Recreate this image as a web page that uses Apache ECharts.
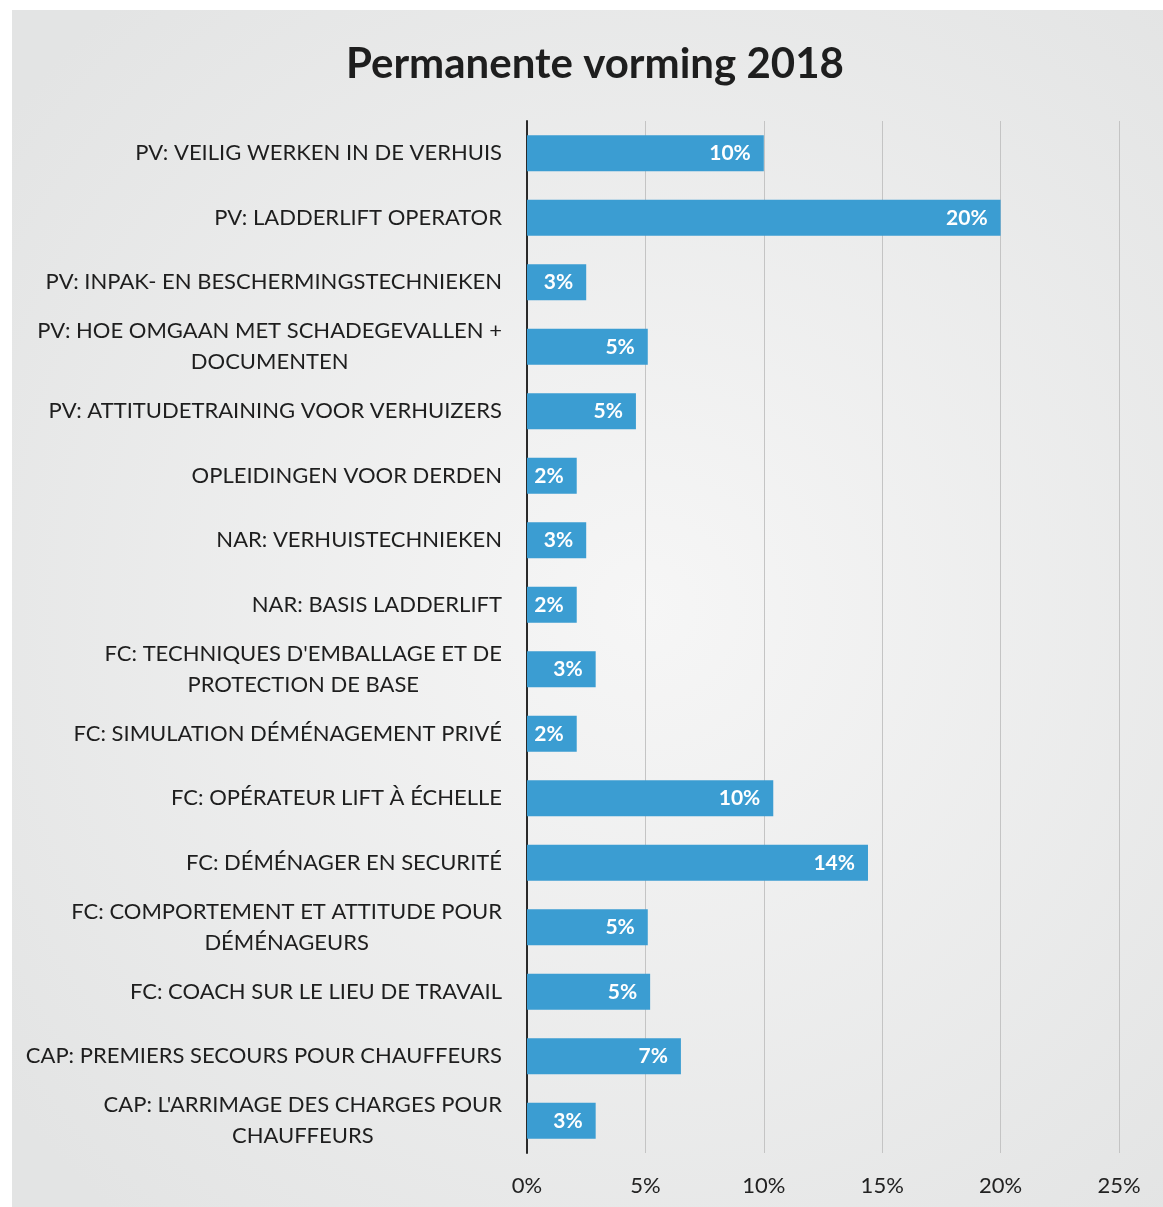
<!DOCTYPE html>
<html>
<head>
<meta charset="utf-8">
<script src="https://cdn.jsdelivr.net/npm/echarts@6/dist/echarts.min.js"></script>
<style>
html, body { margin: 0; padding: 0; background: #fff; }
#chart { width: 1163px; height: 1207px; }
</style>
</head>
<body>
<div id="chart"></div>
<script>
var categories = [
    'PV: VEILIG WERKEN IN DE VERHUIS',
    'PV: LADDERLIFT OPERATOR',
    'PV: INPAK- EN BESCHERMINGSTECHNIEKEN',
    'PV: HOE OMGAAN MET SCHADEGEVALLEN +\nDOCUMENTEN',
    'PV: ATTITUDETRAINING VOOR VERHUIZERS',
    'OPLEIDINGEN VOOR DERDEN',
    'NAR: VERHUISTECHNIEKEN',
    'NAR: BASIS LADDERLIFT',
    'FC: TECHNIQUES D\'EMBALLAGE ET DE\nPROTECTION DE BASE',
    'FC: SIMULATION DÉMÉNAGEMENT PRIVÉ',
    'FC: OPÉRATEUR LIFT À ÉCHELLE',
    'FC: DÉMÉNAGER EN SECURITÉ',
    'FC: COMPORTEMENT ET ATTITUDE POUR\nDÉMÉNAGEURS',
    'FC: COACH SUR LE LIEU DE TRAVAIL',
    'CAP: PREMIERS SECOURS POUR CHAUFFEURS',
    'CAP: L\'ARRIMAGE DES CHARGES POUR\nCHAUFFEURS'
];
var shares = [10.0, 20.0, 2.5, 5.1, 4.6, 2.1, 2.5, 2.1, 2.9, 2.1, 10.4, 14.4, 5.1, 5.2, 6.5, 2.9];
var font = 'Lato';

var chart = echarts.init(document.getElementById('chart'));
chart.setOption({
    backgroundColor: '#ffffff',
    animation: false,
    graphic: [{
        type: 'rect',
        z: -10,
        shape: {x: 12, y: 10, width: 1151, height: 1197},
        style: {
            fill: new echarts.graphic.RadialGradient(0.55, 0.5, 0.7, [
                {offset: 0, color: '#f6f6f6'},
                {offset: 1, color: '#e3e4e4'}
            ])
        }
    }],
    title: {
        text: 'Permanente vorming 2018',
        left: 341,
        top: 38,
        textStyle: {fontFamily: font, fontSize: 42, fontWeight: 'bold', color: '#1e1e1e'}
    },
    grid: {left: 527, right: 44, top: 121, bottom: 54, containLabel: false, outerBoundsMode: 'none'},
    xAxis: {
        type: 'value',
        min: 0,
        max: 25,
        interval: 5,
        axisLine: {show: false},
        axisTick: {show: false},
        axisLabel: {
            formatter: '{value}%',
            margin: 22,
            fontFamily: font,
            fontSize: 22,
            color: '#222'
        },
        splitLine: {lineStyle: {color: '#c4c4c4', width: 1}}
    },
    yAxis: {
        type: 'category',
        inverse: true,
        data: categories,
        axisTick: {show: false},
        axisLine: {lineStyle: {color: '#2a2a2a', width: 2}},
        axisLabel: {
            margin: 25,
            align: 'right',
            formatter: function (v) {
                return v.split('\n').map(function (l) { return '{c|' + l + '}'; }).join('\n');
            },
            rich: {
                c: {align: 'center', fontFamily: font, fontSize: 22, color: '#1e1e1e', lineHeight: 31}
            }
        }
    },
    series: [{
        type: 'bar',
        data: shares,
        barWidth: 36,
        itemStyle: {color: '#3b9dd2'},
        label: {
            show: true,
            position: 'insideRight',
            distance: 13,
            formatter: function (p) { return Math.round(p.value) + '%'; },
            fontFamily: font,
            fontSize: 21,
            fontWeight: 'bold',
            color: '#ffffff'
        }
    }]
});
</script>
</body>
</html>
